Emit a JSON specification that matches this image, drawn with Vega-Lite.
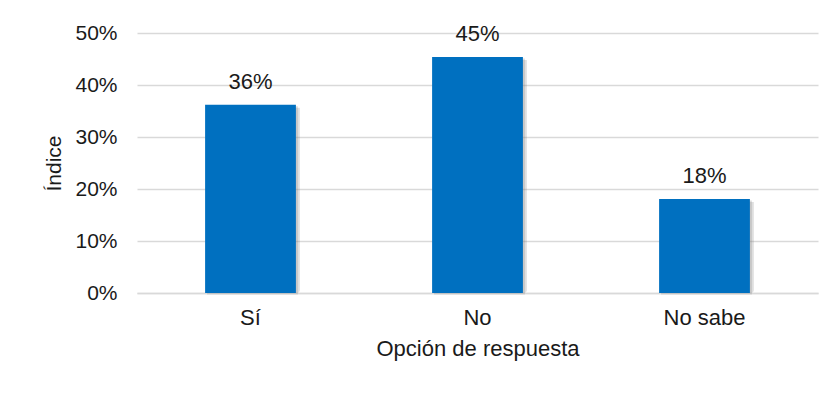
{
  "$schema": "https://vega.github.io/schema/vega-lite/v6.json",
  "width": 681,
  "height": 260,
  "autosize": {"type": "none"},
  "padding": {"left": 137, "top": 33, "right": 17, "bottom": 100},
  "background": "white",
  "config": {
    "view": {"stroke": null},
    "font": "Liberation Sans",
    "axis": {"labelFont": "Liberation Sans", "titleFont": "Liberation Sans", "labelColor": "#1a1a1a", "titleColor": "#1a1a1a", "titleFontWeight": "normal"}
  },
  "data": {
    "values": [
      {"opcion": "Sí", "indice": 0.362},
      {"opcion": "No", "indice": 0.454},
      {"opcion": "No sabe", "indice": 0.181}
    ]
  },
  "encoding": {
    "x": {
      "field": "opcion",
      "type": "nominal",
      "sort": null,
      "scale": {"paddingInner": 0.6, "paddingOuter": 0.3},
      "axis": {
        "title": "Opción de respuesta",
        "labelAngle": 0,
        "labelFontSize": 22,
        "titleFontSize": 22,
        "ticks": false,
        "domain": true,
        "domainColor": "#d9d9d9",
        "domainWidth": 1.5,
        "labelPadding": 14,
        "titlePadding": 10,
        "labelOverlap": false
      }
    },
    "y": {
      "field": "indice",
      "type": "quantitative",
      "scale": {"domain": [0, 0.5]},
      "axis": {
        "title": "Índice",
        "format": ".0%",
        "values": [0, 0.1, 0.2, 0.3, 0.4, 0.5],
        "labelFontSize": 21,
        "titleFontSize": 21,
        "ticks": false,
        "domain": false,
        "gridColor": "#d9d9d9",
        "gridWidth": 1.5,
        "labelPadding": 20,
        "titlePadding": 10,
        "labelOverlap": false
      }
    }
  },
  "layer": [
    {
      "mark": {"type": "bar", "color": "#7f7f7f", "opacity": 0.25, "xOffset": 4, "yOffset": 3, "cornerRadius": 3}
    },
    {
      "mark": {"type": "bar", "color": "#7f7f7f", "opacity": 0.25, "xOffset": 2, "yOffset": 1.5}
    },
    {
      "mark": {"type": "bar", "color": "#0070C0"}
    },
    {
      "mark": {"type": "text", "baseline": "alphabetic", "dy": -16, "fontSize": 22, "color": "#1a1a1a"},
      "encoding": {"text": {"field": "indice", "type": "quantitative", "format": ".0%"}}
    }
  ]
}
